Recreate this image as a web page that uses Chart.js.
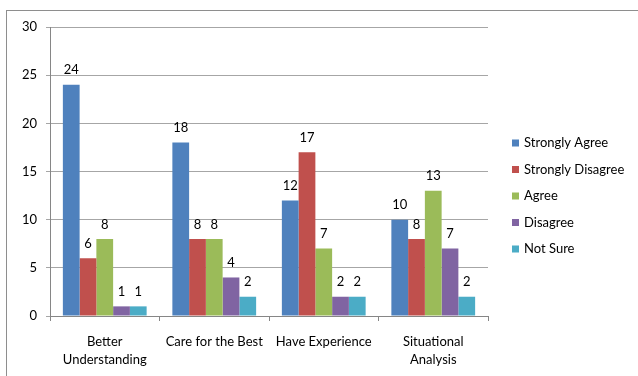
<!DOCTYPE html>
<html>
<head>
<meta charset="utf-8">
<script src="https://cdn.jsdelivr.net/npm/chart.js@4"></script>
<style>
  html, body { margin: 0; padding: 0; background: #fff; overflow: hidden; }
  #wrap { position: relative; width: 638px; height: 376px; }
  #frame { position: absolute; left: 6px; top: 10px; width: 700px; height: 400px; border: 1px solid #8e8e8e; }
  canvas { position: absolute; left: 0; top: 0; }
</style>
</head>
<body>
<div id="wrap">
  <div id="frame"></div>
  <canvas id="chart" width="638" height="376"></canvas>
</div>
<script>
// categories and answer counts
var categories = [["Better", "Understanding"], "Care for the Best", "Have Experience", ["Situational", "Analysis"]];
var seriesNames = ["Strongly Agree", "Strongly Disagree", "Agree", "Disagree", "Not Sure"];
var stronglyAgree = [24, 18, 12, 10];
var stronglyDisagree = [6, 8, 17, 8];
var agree = [8, 8, 7, 13];
var disagree = [1, 4, 2, 7];
var notSure = [1, 2, 2, 2];
var yTicks = [0, 5, 10, 15, 20, 25, 30];

var colors = ["#4F81BD", "#C0504D", "#9BBB59", "#8064A2", "#4BACC6"];
var allSeries = [stronglyAgree, stronglyDisagree, agree, disagree, notSure];
var font = "Lato, 'Open Sans', sans-serif";

// numbers on top of each bar
var barLabels = {
  id: "barLabels",
  afterDatasetsDraw: function(chart) {
    var ctx = chart.ctx;
    ctx.save();
    ctx.fillStyle = "#000";
    ctx.font = "13px " + font;
    ctx.textAlign = "center";
    ctx.textBaseline = "bottom";
    chart.data.datasets.forEach(function(ds, i) {
      chart.getDatasetMeta(i).data.forEach(function(bar, j) {
        ctx.fillText(ds.data[j], bar.x, bar.y - 8);
      });
    });
    ctx.restore();
  }
};

// legend on the right, drawn by hand so it sits where Excel puts it
var sideLegend = {
  id: "sideLegend",
  afterDraw: function(chart) {
    var ctx = chart.ctx;
    ctx.save();
    ctx.font = "13px " + font;
    ctx.textBaseline = "middle";
    chart.data.datasets.forEach(function(ds, i) {
      var y = 143 + i * 26.5;
      ctx.fillStyle = ds.backgroundColor;
      ctx.fillRect(512, y - 3.5, 7, 7);
      ctx.fillStyle = "#000";
      ctx.fillText(ds.label, 524, y);
    });
    ctx.restore();
  }
};

var datasets = seriesNames.map(function(name, i) {
  return {
    label: name,
    data: allSeries[i],
    backgroundColor: colors[i],
    barPercentage: 1,
    categoryPercentage: 0.765
  };
});

new Chart(document.getElementById("chart"), {
  type: "bar",
  data: { labels: categories, datasets: datasets },
  plugins: [barLabels, sideLegend],
  options: {
    responsive: false,
    animation: false,
    layout: { padding: { left: 0, top: 27, right: 150, bottom: 0 } },
    plugins: { legend: { display: false }, tooltip: { enabled: false } },
    scales: {
      x: {
        grid: { display: true, drawOnChartArea: false, tickLength: 5, color: "#868686" },
        border: { color: "#868686" },
        ticks: { color: "#000", font: { family: font, size: 13, lineHeight: 1.38 }, maxRotation: 0, autoSkip: false, padding: 12 },
        afterFit: function(scale) { scale.height = 60; }
      },
      y: {
        min: 0,
        max: 30,
        afterBuildTicks: function(scale) {
          scale.ticks = yTicks.map(function(v) { return { value: v }; });
        },
        grid: { color: "#a6a6a6", tickLength: 4 },
        border: { color: "#868686" },
        ticks: { color: "#000", font: { family: font, size: 13 }, padding: 9 },
        afterFit: function(scale) { scale.width = 50; }
      }
    }
  }
});
</script>
</body>
</html>
